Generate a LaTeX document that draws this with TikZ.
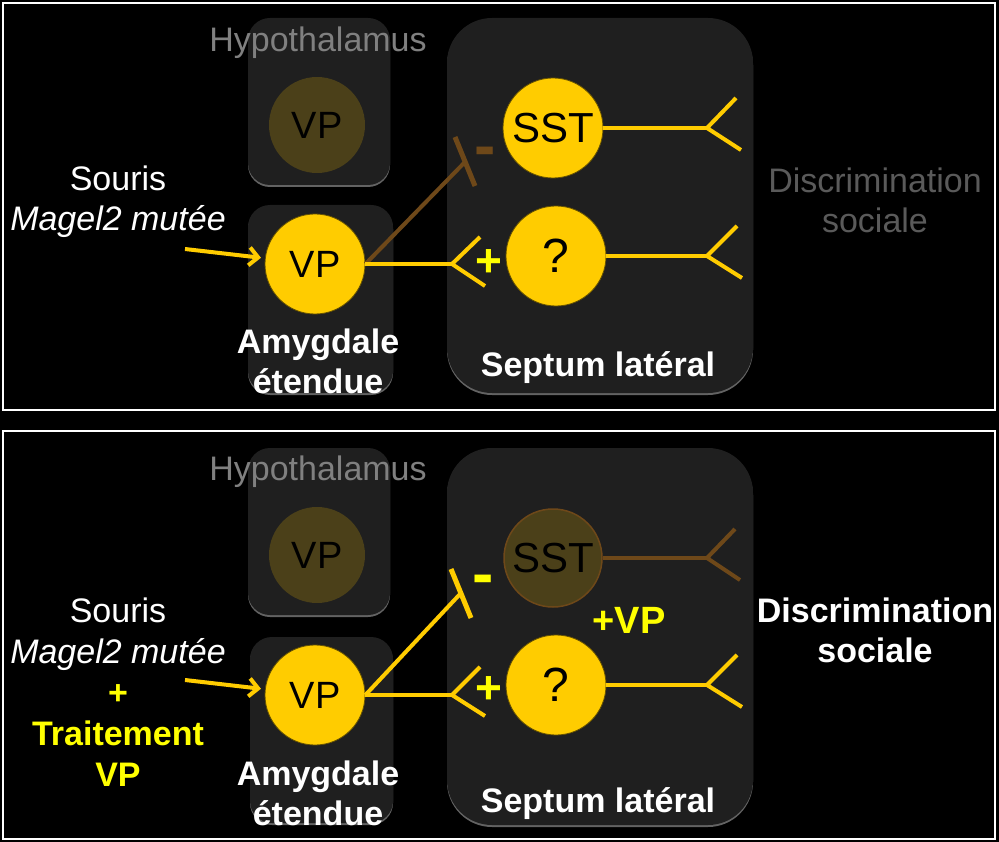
\documentclass[tikz,border=0pt]{standalone}
\usepackage{fontspec}
\setmainfont{Liberation Sans}
\usetikzlibrary{arrows.meta,shadows}
\definecolor{gold}{HTML}{FFCC00}
\definecolor{lemon}{HTML}{FFFF00}
\definecolor{boxgray}{HTML}{1F1F1F}
\definecolor{dimolive}{HTML}{4B4019}
\definecolor{umber}{HTML}{6E4819}
\definecolor{midgray}{HTML}{808080}
\definecolor{lowgray}{HTML}{5A5A5A}

\begin{document}
\begin{tikzpicture}[x=1pt, y=-1pt,
  every node/.style={inner sep=0pt, align=center, font=\fontsize{34}{40}\selectfont},
  bold/.style={font=\fontsize{34}{40}\selectfont\bfseries},
  sign/.style={font=\fontsize{46}{46}\selectfont\bfseries},
  region/.style={fill=boxgray, drop shadow={shadow xshift=0pt, shadow yshift=-2pt, fill=gray!70, opacity=0.6}},
  cell/.style={circle, fill=gold, draw=black!60!gold, line width=0.8pt, minimum size=100pt, font=\fontsize{38}{38}\selectfont},
  dimcell/.style={circle, fill=dimolive, minimum size=96pt, font=\fontsize{38}{38}\selectfont},
  link/.style={gold, line width=4pt, line join=round},
  feed/.style={gold, line width=4pt, shorten >=4pt, -{Straight Barb[length=9pt, width=18pt]}}]
  \fill[black] (0,0) rectangle (999,842);
  \useasboundingbox (0,0) rectangle (999,842);

  % --- panel 1 : souris mutee ---
  \draw[white, line width=2pt] (3,3) rectangle (995,410);
  \path[region, rounded corners=22pt] (248,18) rectangle (390,185);
  \path[region, rounded corners=22pt] (248,205) rectangle (393,393);
  \path[region, rounded corners=45pt] (447,18) rectangle (753,393);
  \node[midgray] (hypA) at (318,43) {Hypothalamus};
  \node[dimcell] (vpHA) at (317,125) {VP};
  \node[cell] (vpA) at (315,264) {VP};
  \node[white, bold] (amyA) at (318,361) {Amygdale\\étendue};
  \node[cell, font=\fontsize{42}{42}\selectfont] (sstA) at (553,128) {SST};
  \node[cell, font=\fontsize{48}{48}\selectfont] (qA) at (556,256) {?};
  \node[white, bold] (septA) at (598,368) {Septum latéral};
  \node[lowgray] (discA) at (875,200) {Discrimination\\sociale};
  \node[white] (mouseA) at (118,202) {Souris\\\textit{Magel2 mutée}};

  \coordinate (inA) at (185,249);
  \draw[feed] (inA) -- (vpA);
  \coordinate (barA) at (465,162);
  \draw[umber, line width=4pt] (vpA.east) -- (barA);
  \draw[umber, line width=5pt] (barA) +(-10,-25) -- +(10,24);
  \node[umber, font=\fontsize{64}{64}\selectfont\bfseries] (minusA) at (485,157) {-};
  \coordinate (forkA) at (452,264);
  \draw[link] (vpA) -- (forkA);
  \draw[link] (forkA) +(28,-27) -- (forkA) -- +(33,22);
  \node[lemon, sign] (plusA) at (489,263) {+};
  \coordinate (outSA) at (707,128);
  \draw[link] (sstA) -- (outSA);
  \draw[link] (outSA) +(29,-30) -- (outSA) -- +(34,22);
  \coordinate (outQA) at (707,256);
  \draw[link] (qA) -- (outQA);
  \draw[link] (outQA) +(30,-30) -- (outQA) -- +(35,22);

  % --- panel 2 : avec traitement VP ---
  \draw[white, line width=2pt] (3,431) rectangle (995,839);
  \path[region, rounded corners=22pt] (248,448) rectangle (390,615);
  \path[region, rounded corners=22pt] (250,637) rectangle (393,823);
  \path[region, rounded corners=45pt] (447,448) rectangle (753,825);
  \node[midgray] (hypB) at (318,472) {Hypothalamus};
  \node[dimcell] (vpHB) at (317,555) {VP};
  \node[cell] (vpB) at (315,695) {VP};
  \node[white, bold] (amyB) at (318,793) {Amygdale\\étendue};
  \node[dimcell, draw=umber, line width=1.5pt, minimum size=98pt, font=\fontsize{42}{42}\selectfont] (sstB) at (553,558) {SST};
  \node[cell, font=\fontsize{48}{48}\selectfont] (qB) at (556,685) {?};
  \node[white, bold] (septB) at (598,804) {Septum latéral};
  \node[lemon, font=\fontsize{38}{38}\selectfont\bfseries] (vpPlusB) at (629,620) {+VP};
  \node[white, bold] (discB) at (875,630) {Discrimination\\sociale};
  \node[white, font=\fontsize{34}{41}\selectfont] (mouseB) at (118,692)
    {Souris\\\textit{Magel2 mutée}\\\textcolor{lemon}{\bfseries +}\\\textcolor{lemon}{\bfseries Traitement}\\\textcolor{lemon}{\bfseries VP}};

  \coordinate (inB) at (185,680);
  \draw[feed] (inB) -- (vpB);
  \coordinate (barB) at (461,593);
  \draw[link] (vpB.east) -- (barB);
  \draw[gold, line width=5pt] (barB) +(-10,-24) -- +(10,25);
  \node[lemon, font=\fontsize{64}{64}\selectfont\bfseries] (minusB) at (483,585) {-};
  \coordinate (forkB) at (452,695);
  \draw[link] (vpB) -- (forkB);
  \draw[link] (forkB) +(28,-28) -- (forkB) -- +(33,21);
  \node[lemon, sign] (plusB) at (489,690) {+};
  \coordinate (outSB) at (707,558);
  \draw[umber, line width=4pt, line join=round] (sstB) -- (outSB);
  \draw[umber, line width=4pt, line join=round] (outSB) +(28,-29) -- (outSB) -- +(33,22);
  \coordinate (outQB) at (707,685);
  \draw[link] (qB) -- (outQB);
  \draw[link] (outQB) +(30,-30) -- (outQB) -- +(35,22);
\end{tikzpicture}
\end{document}
